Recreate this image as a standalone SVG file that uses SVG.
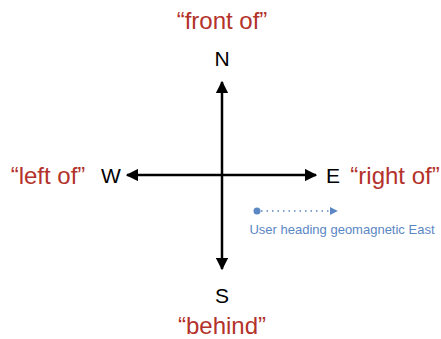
<svg xmlns="http://www.w3.org/2000/svg" width="441" height="339" viewBox="0 0 441 339">
<style>
.red{font-family:"Liberation Sans",Arial,sans-serif;font-size:24px;fill:#b3322b;text-anchor:middle}
.dir{font-family:"Liberation Sans",Arial,sans-serif;font-size:21px;fill:#000;text-anchor:middle}
.ax{stroke:#000;stroke-width:2.5;fill:none}
</style>
<defs>
<marker id="ah" viewBox="0 0 10 10" refX="9" refY="5" markerWidth="5" markerHeight="5" orient="auto" markerUnits="strokeWidth"><path d="M0,0L10,5L0,10z" fill="#000"/></marker>
<marker id="bh" viewBox="0 0 10 10" refX="9" refY="5" markerWidth="8" markerHeight="8" orient="auto" markerUnits="userSpaceOnUse"><path d="M0,0L10,5L0,10z" fill="#5b87c4"/></marker>
</defs>
<rect width="441" height="339" fill="#fff"/>
<g id="connectors">
<line class="ax" x1="222" y1="175" x2="222" y2="82" marker-end="url(#ah)"/>
<line class="ax" x1="222" y1="175" x2="222" y2="269" marker-end="url(#ah)"/>
<line class="ax" x1="222" y1="175" x2="127" y2="175" marker-end="url(#ah)"/>
<line class="ax" x1="222" y1="175" x2="316" y2="175" marker-end="url(#ah)"/>
<circle cx="257" cy="211" r="3.5" fill="#5b87c4"/>
<line x1="261" y1="211" x2="337" y2="211" stroke="#5b87c4" stroke-width="1.5" stroke-dasharray="1.5,4" marker-end="url(#bh)"/>
</g>
<g id="north"><text class="red" x="222" y="29">“front of”</text><text class="dir" x="222" y="66">N</text></g>
<g id="south"><text class="dir" x="222" y="303">S</text><text class="red" x="222" y="334">“behind”</text></g>
<g id="west"><text class="red" x="48" y="184">“left of”</text><text class="dir" x="111" y="183">W</text></g>
<g id="east"><text class="dir" x="333" y="183">E</text><text class="red" x="395" y="184">“right of”</text></g>
<g id="legend"><text x="342" y="234" font-family="Liberation Sans,Arial,sans-serif" font-size="13" fill="#5b87c4" text-anchor="middle">User heading geomagnetic East</text></g>
</svg>
